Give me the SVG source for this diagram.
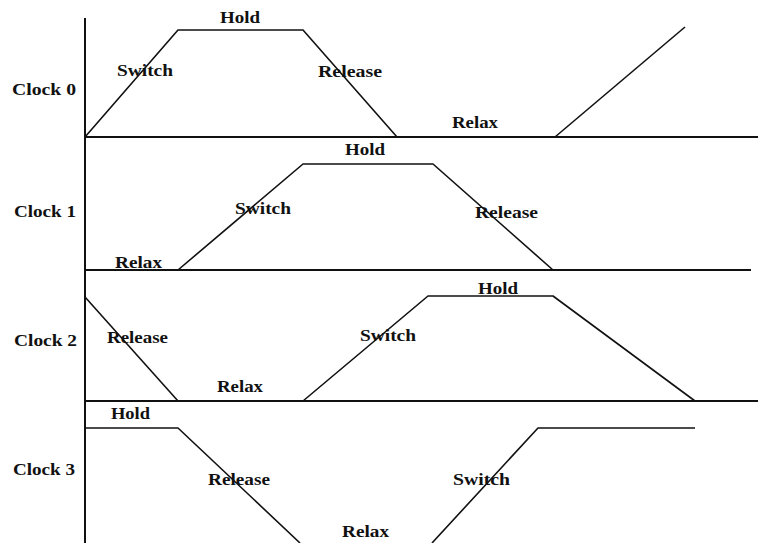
<svg xmlns="http://www.w3.org/2000/svg" width="759" height="543" viewBox="0 0 759 543">
<style>
.t{font-family:"Liberation Serif","Times New Roman",serif;font-weight:bold;font-size:17px;fill:#111}
.ax{stroke:#111;stroke-width:2;fill:none}
.w{stroke:#111;stroke-width:1.6;fill:none;stroke-linejoin:round}
</style>
<rect width="759" height="543" fill="#fff"/>
<g id="connectors">
<path class="ax" d="M85 18V543"/>
<path class="ax" d="M85 137H758"/>
<path class="ax" d="M85 270H751"/>
<path class="ax" d="M85 401H758"/>
<path class="w" d="M85 137L178 30L303 30L397 137"/>
<path class="w" d="M555 137L685 27"/>
<path class="w" d="M178 270L303 164L433 164L553 270"/>
<path class="w" d="M85 297L178 401"/>
<path class="w" d="M303 401L428 296L553 296L695 401"/>
<path class="w" d="M85 428L178 428L300 543"/>
<path class="w" d="M432 543L538 428L695 428"/>
</g>
<g id="clock0">
<text class="t" x="12" y="95" textLength="64" lengthAdjust="spacingAndGlyphs">Clock 0</text>
<text class="t" x="220" y="23" textLength="40" lengthAdjust="spacingAndGlyphs">Hold</text>
<text class="t" x="117" y="76" textLength="56" lengthAdjust="spacingAndGlyphs">Switch</text>
<text class="t" x="318" y="77" textLength="64" lengthAdjust="spacingAndGlyphs">Release</text>
<text class="t" x="452" y="128" textLength="46" lengthAdjust="spacingAndGlyphs">Relax</text>
</g>
<g id="clock1">
<text class="t" x="14" y="217" textLength="62" lengthAdjust="spacingAndGlyphs">Clock 1</text>
<text class="t" x="345" y="155" textLength="40" lengthAdjust="spacingAndGlyphs">Hold</text>
<text class="t" x="235" y="214" textLength="56" lengthAdjust="spacingAndGlyphs">Switch</text>
<text class="t" x="475" y="218" textLength="63" lengthAdjust="spacingAndGlyphs">Release</text>
<text class="t" x="115" y="268" textLength="47" lengthAdjust="spacingAndGlyphs">Relax</text>
</g>
<g id="clock2">
<text class="t" x="14" y="346" textLength="63" lengthAdjust="spacingAndGlyphs">Clock 2</text>
<text class="t" x="107" y="343" textLength="61" lengthAdjust="spacingAndGlyphs">Release</text>
<text class="t" x="217" y="392" textLength="46" lengthAdjust="spacingAndGlyphs">Relax</text>
<text class="t" x="360" y="341" textLength="56" lengthAdjust="spacingAndGlyphs">Switch</text>
<text class="t" x="478" y="294" textLength="40" lengthAdjust="spacingAndGlyphs">Hold</text>
</g>
<g id="clock3">
<text class="t" x="13" y="475" textLength="62" lengthAdjust="spacingAndGlyphs">Clock 3</text>
<text class="t" x="111" y="419" textLength="39" lengthAdjust="spacingAndGlyphs">Hold</text>
<text class="t" x="208" y="485" textLength="62" lengthAdjust="spacingAndGlyphs">Release</text>
<text class="t" x="453" y="485" textLength="57" lengthAdjust="spacingAndGlyphs">Switch</text>
<text class="t" x="342" y="537" textLength="47" lengthAdjust="spacingAndGlyphs">Relax</text>
</g>
</svg>
